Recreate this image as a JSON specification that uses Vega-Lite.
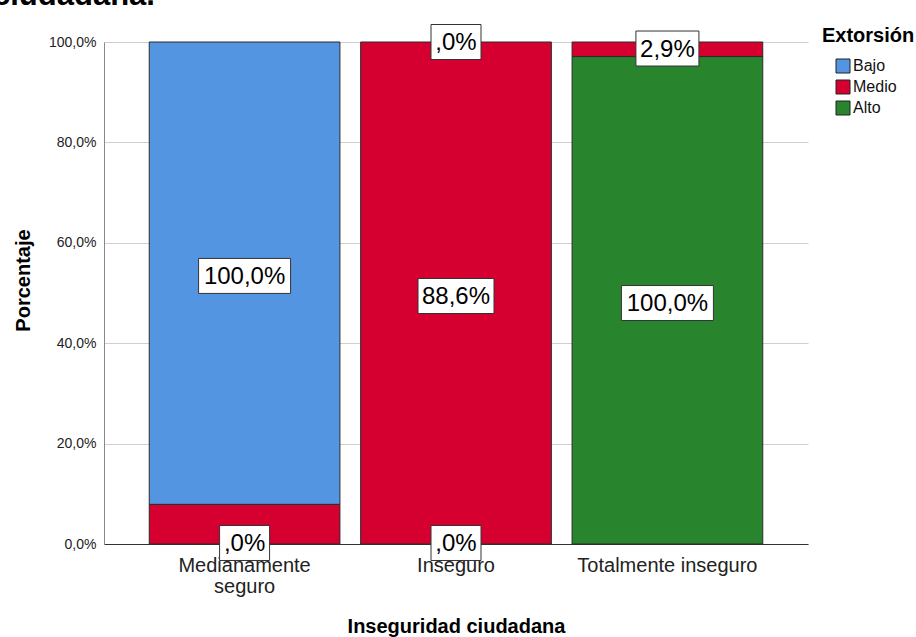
{
  "$schema": "https://vega.github.io/schema/vega-lite/v6.json",
  "width": 704,
  "height": 502,
  "autosize": "none",
  "padding": {"left": 104, "top": 42, "right": 108, "bottom": 93},
  "background": "white",
  "title": {"text": "ciudadana.", "anchor": "start", "frame": "group", "fontSize": 31, "fontWeight": "bold", "color": "#000", "dx": -111, "dy": 13, "offset": 0, "baseline": "alphabetic"},
  "config": {
    "font": "Liberation Sans",
    "view": {"stroke": null},
    "axis": {"labelFont": "Liberation Sans", "titleFont": "Liberation Sans"},
    "legend": {"labelFont": "Liberation Sans", "titleFont": "Liberation Sans"}
  },
  "datasets": {
    "barras": [
      {"cat": "Medianamente seguro", "ext": "Medio", "nivel": 2, "pct": 7.9},
      {"cat": "Medianamente seguro", "ext": "Bajo", "nivel": 1, "pct": 92.1},
      {"cat": "Inseguro", "ext": "Medio", "nivel": 2, "pct": 100},
      {"cat": "Totalmente inseguro", "ext": "Alto", "nivel": 3, "pct": 97.1},
      {"cat": "Totalmente inseguro", "ext": "Medio", "nivel": 2, "pct": 2.9}
    ],
    "etiquetas": [
      {"cat": "Medianamente seguro", "etiqueta": "100,0%", "pos": 53.4},
      {"cat": "Medianamente seguro", "etiqueta": ",0%", "pos": 0.2},
      {"cat": "Inseguro", "etiqueta": ",0%", "pos": 100},
      {"cat": "Inseguro", "etiqueta": "88,6%", "pos": 49.4},
      {"cat": "Inseguro", "etiqueta": ",0%", "pos": 0.2},
      {"cat": "Totalmente inseguro", "etiqueta": "100,0%", "pos": 48},
      {"cat": "Totalmente inseguro", "etiqueta": "2,9%", "pos": 98.7}
    ]
  },
  "layer": [
    {
      "data": {"name": "barras"},
      "mark": {"type": "bar", "stroke": "#2a2a2a", "strokeWidth": 1},
      "encoding": {
        "x": {
          "field": "cat", "type": "nominal",
          "sort": ["Medianamente seguro", "Inseguro", "Totalmente inseguro"],
          "scale": {"paddingInner": 0.098, "paddingOuter": 0.214},
          "axis": {
            "title": "Inseguridad ciudadana",
            "titleFontSize": 20, "titleFontWeight": "bold", "titleColor": "#000",
            "titleY": 88, "titleBaseline": "alphabetic",
            "labelAngle": 0, "labelFontSize": 20, "labelColor": "#222",
            "labelPadding": 11, "labelLineHeight": 21, "labelLimit": 0,
            "labelExpr": "datum.label == 'Medianamente seguro' ? ['Medianamente', 'seguro'] : datum.label",
            "ticks": false, "domainColor": "#333", "domainWidth": 1
          }
        },
        "y": {
          "field": "pct", "type": "quantitative", "stack": "zero",
          "scale": {"domain": [0, 100], "nice": false},
          "axis": {
            "title": "Porcentaje",
            "titleFontSize": 20, "titleFontWeight": "bold", "titleColor": "#000",
            "titleX": -81, "titleY": 238, "titleAngle": -90, "titleBaseline": "middle", "titleAlign": "center",
            "values": [0, 20, 40, 60, 80, 100],
            "labelExpr": "replace(format(datum.value, '.1f'), '.', ',') + '%'",
            "labelFontSize": 14, "labelColor": "#222", "labelPadding": 8,
            "ticks": false, "domainColor": "#888",
            "grid": true, "gridColor": "#cfcfcf", "gridWidth": 1
          }
        },
        "order": {"field": "nivel", "type": "quantitative", "sort": "descending"},
        "color": {
          "field": "ext", "type": "nominal",
          "scale": {"domain": ["Bajo", "Medio", "Alto"], "range": ["#5495E1", "#D60030", "#29852D"]},
          "legend": {
            "title": "Extorsión", "orient": "none", "legendX": 718, "legendY": -16,
            "titleFontSize": 20, "titleFontWeight": "bold", "titleColor": "#000", "titlePadding": 12,
            "labelFontSize": 16, "labelColor": "#111", "labelOffset": 2,
            "symbolType": "square", "symbolSize": 196, "symbolStrokeColor": "#222", "symbolStrokeWidth": 1,
            "symbolOffset": 13, "rowPadding": 3
          }
        }
      }
    },
    {
      "data": {"name": "etiquetas"},
      "mark": {"type": "point", "filled": true, "fill": "white", "stroke": "#333", "strokeWidth": 1, "opacity": 1, "size": 10000},
      "encoding": {
        "x": {"field": "cat", "type": "nominal", "sort": ["Medianamente seguro", "Inseguro", "Totalmente inseguro"]},
        "y": {"field": "pos", "type": "quantitative"},
        "shape": {
          "field": "etiqueta", "type": "nominal",
          "scale": {
            "domain": ["100,0%", "88,6%", ",0%", "2,9%"],
            "range": ["M-0.92,-0.35H0.92V0.35H-0.92Z", "M-0.76,-0.35H0.76V0.35H-0.76Z", "M-0.5,-0.35H0.5V0.35H-0.5Z", "M-0.63,-0.35H0.63V0.35H-0.63Z"]
          },
          "legend": null
        }
      }
    },
    {
      "data": {"name": "etiquetas"},
      "mark": {"type": "text", "fontSize": 24, "color": "#000", "align": "center", "baseline": "middle", "dy": 1},
      "encoding": {
        "x": {"field": "cat", "type": "nominal", "sort": ["Medianamente seguro", "Inseguro", "Totalmente inseguro"]},
        "y": {"field": "pos", "type": "quantitative"},
        "text": {"field": "etiqueta"}
      }
    }
  ]
}
